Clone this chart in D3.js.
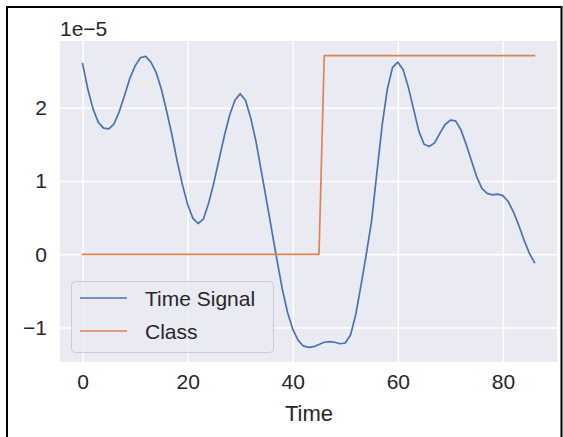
<!DOCTYPE html>
<html>
<head>
<meta charset="utf-8">
<title>time-signal</title>
<script src="https://cdn.jsdelivr.net/npm/d3@7"></script>
<style>
  body { margin: 0; background: #fff; }
  svg text { font-family: "Liberation Sans", Arial, sans-serif; fill: #262626; }
</style>
</head>
<body>
<svg id="chart" width="563" height="437"></svg>
<script>
// values in units of 1e-5 (matplotlib offset text "1e−5")
var signal = [2.60, 2.25, 1.98, 1.80, 1.72, 1.71, 1.78, 1.95, 2.17, 2.40,
              2.57, 2.68, 2.70, 2.62, 2.48, 2.25, 1.95, 1.63, 1.27, 0.95,
              0.68, 0.49, 0.42, 0.48, 0.70, 0.98, 1.30, 1.62, 1.90, 2.10,
              2.19, 2.10, 1.86, 1.54, 1.14, 0.74, 0.33, -0.08, -0.47, -0.79,
              -1.02, -1.17, -1.25, -1.27, -1.26, -1.23, -1.20, -1.19, -1.20, -1.22,
              -1.21, -1.10, -0.82, -0.42, 0.00, 0.45, 1.10, 1.75, 2.25, 2.55,
              2.62, 2.52, 2.28, 1.98, 1.68, 1.50, 1.47, 1.52, 1.65, 1.77,
              1.83, 1.82, 1.70, 1.50, 1.28, 1.06, 0.90, 0.83, 0.81, 0.82,
              0.80, 0.72, 0.58, 0.40, 0.20, 0.02, -0.11];
var classLow = 0, classHigh = 2.71, classSwitch = 46;
var classes = signal.map(function(d, i){ return i < classSwitch ? classLow : classHigh; });
var xTicks = [0, 20, 40, 60, 80];
var yTicks = [-1, 0, 1, 2];
var seriesNames = ['Time Signal', 'Class'];
var seriesColors = ['#4c72b0', '#dd8452'];

var svg = d3.select('#chart');
var plotL = 60, plotR = 557, plotT = 41, plotB = 362;

// outer frame of the screenshot
svg.append('path')
   .attr('d', 'M7,437V7H561.5V437')
   .attr('fill', 'none').attr('stroke', '#000').attr('stroke-width', 2);

var n = signal.length - 1;
var x = d3.scaleLinear().domain([-0.05 * n, n * 1.05]).range([plotL, plotR]);
var all = signal.concat(classes);
var lo = d3.min(all), hi = d3.max(all), pad = (hi - lo) * 0.05;
var y = d3.scaleLinear().domain([lo - pad, hi + pad]).range([plotB, plotT]);

svg.append('rect')
   .attr('x', plotL).attr('y', plotT)
   .attr('width', plotR - plotL).attr('height', plotB - plotT)
   .attr('fill', '#eaeaf2');

var xAxis = d3.axisBottom(x).tickValues(xTicks).tickSize(-(plotB - plotT)).tickPadding(12);
var yAxis = d3.axisLeft(y).tickValues(yTicks).tickSize(-(plotR - plotL)).tickPadding(13)
              .tickFormat(function(d){ return d < 0 ? '\u2212' + Math.abs(d) : d; });

function styleAxis(g) {
  g.select('.domain').remove();
  g.selectAll('.tick line').attr('stroke', '#fff').attr('stroke-width', 1.5);
  g.selectAll('.tick text').attr('font-size', 21).attr('fill', '#262626');
}
svg.append('g').attr('transform', 'translate(0,' + plotB + ')').call(xAxis).call(styleAxis);
svg.append('g').attr('transform', 'translate(' + plotL + ',0)').call(yAxis).call(styleAxis);

var line = d3.line()
  .x(function(d, i){ return x(i); })
  .y(function(d){ return y(d); });

[signal, classes].forEach(function(s, k){
  svg.append('path')
     .datum(s)
     .attr('d', line)
     .attr('fill', 'none')
     .attr('stroke', seriesColors[k])
     .attr('stroke-width', 1.7)
     .attr('stroke-linejoin', 'round')
     .attr('stroke-linecap', 'square');
});

// offset text and axis label
svg.append('text').attr('x', plotL).attr('y', 36).attr('font-size', 21).text('1e\u22125');
svg.append('text').attr('x', (plotL + plotR) / 2 + 0.5).attr('y', 421)
   .attr('text-anchor', 'middle').attr('font-size', 22).text('Time');

// legend
var legend = svg.append('g');
legend.append('rect')
      .attr('x', 71.5).attr('y', 281.5).attr('width', 202).attr('height', 71)
      .attr('rx', 4).attr('fill', '#eaeaf2').attr('fill-opacity', 0.8)
      .attr('stroke', '#cccccc').attr('stroke-width', 1);
seriesNames.forEach(function(name, k){
  var ly = 298 + k * 33;
  legend.append('line')
        .attr('x1', 80).attr('x2', 127).attr('y1', ly).attr('y2', ly)
        .attr('stroke', seriesColors[k]).attr('stroke-width', 1.7);
  legend.append('text')
        .attr('x', 145).attr('y', ly + 7.5).attr('font-size', 21).text(name);
});
</script>
</body>
</html>
